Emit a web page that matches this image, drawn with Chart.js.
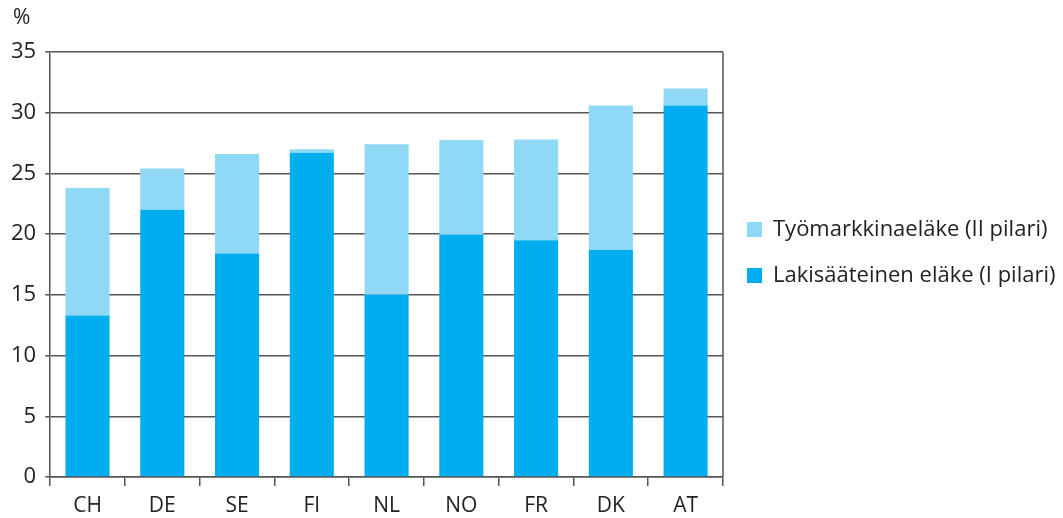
<!DOCTYPE html>
<html>
<head>
<meta charset="utf-8">
<script src="https://cdn.jsdelivr.net/npm/chart.js@4"></script>
<style>
  html, body { margin: 0; padding: 0; background: #fff; }
  #wrap { width: 1063px; height: 518px; position: relative; }
</style>
</head>
<body>
<div id="wrap"><canvas id="pension-chart"></canvas></div>
<script>
// Countries and pension replacement shares (%)
const countries = ['CH', 'DE', 'SE', 'FI', 'NL', 'NO', 'FR', 'DK', 'AT'];
const statutory = [13.3, 22.0, 18.4, 26.7, 15.0, 19.95, 19.5, 18.7, 30.6];
const occupational = [10.5, 3.4, 8.2, 0.3, 12.4, 7.8, 8.3, 11.9, 1.4];
const yTicks = [0, 5, 10, 15, 20, 25, 30, 35];

const axisColor = '#555555';
const textColor = '#222222';
const fontFamily = '"Open Sans", Lato, sans-serif';

// "%" label, right frame line and legend on the right
const extrasPlugin = {
    id: 'extras',
    afterDraw(chart) {
        const ctx = chart.ctx;
        const area = chart.chartArea;
        ctx.save();
        ctx.strokeStyle = axisColor;
        ctx.lineWidth = 1.5;
        ctx.beginPath();
        ctx.moveTo(area.right, area.top);
        ctx.lineTo(area.right, area.bottom);
        ctx.stroke();

        ctx.fillStyle = textColor;
        ctx.font = '21px ' + fontFamily;
        ctx.textAlign = 'left';
        ctx.textBaseline = 'middle';
        ctx.fillText('%', 13, 18);

        // legend, top item = last dataset
        const items = chart.data.datasets.slice().reverse();
        const midY = (area.top + area.bottom) / 2 - 12;
        const boxX = area.right + 24;
        items.forEach((ds, i) => {
            const y = midY + (i - 0.5) * 46;
            ctx.fillStyle = ds.backgroundColor;
            ctx.fillRect(boxX, y - 7.5, 15, 15);
            ctx.fillStyle = textColor;
            ctx.font = '22px ' + fontFamily;
            ctx.fillText(ds.label, boxX + 26, y);
        });
        ctx.restore();
    }
};

function drawChart() {
    const pensionCtx = document.getElementById('pension-chart').getContext('2d');
    new Chart(pensionCtx, {
        type: 'bar',
        data: {
            labels: countries,
            datasets: [{
                label: 'Lakisääteinen eläke (I pilari)',
                data: statutory,
                backgroundColor: '#00AEEF',
                borderWidth: 0
            }, {
                label: 'Työmarkkinaeläke (II pilari)',
                data: occupational,
                backgroundColor: '#8FD8F6',
                borderWidth: 0
            }]
        },
        options: {
            responsive: true,
            maintainAspectRatio: false,
            animation: false,
            datasets: {
                bar: {
                    categoryPercentage: 1,
                    barPercentage: 0.59
                }
            },
            layout: {
                padding: { top: 52, right: 340, bottom: -9, left: 2 }
            },
            plugins: {
                legend: { display: false },
                tooltip: { enabled: false }
            },
            scales: {
                x: {
                    stacked: true,
                    offset: true,
                    grid: {
                        display: true,
                        offset: true,
                        drawOnChartArea: false,
                        drawTicks: true,
                        tickLength: 9,
                        color: axisColor,
                        lineWidth: 1.5
                    },
                    border: { color: axisColor, width: 1.5 },
                    ticks: {
                        color: textColor,
                        padding: 10,
                        font: { family: fontFamily, size: 21, lineHeight: 1 }
                    }
                },
                y: {
                    stacked: true,
                    min: 0,
                    max: 35,
                    afterBuildTicks(axis) {
                        axis.ticks = yTicks.map(v => ({ value: v }));
                    },
                    grid: {
                        color: axisColor,
                        lineWidth: 1.5,
                        tickLength: 5
                    },
                    border: { color: axisColor, width: 1.5 },
                    ticks: {
                        color: textColor,
                        padding: 9,
                        font: { family: fontFamily, size: 22 }
                    }
                }
            }
        },
        plugins: [extrasPlugin]
    });
}

if (document.fonts && document.fonts.load) {
    Promise.all([
        document.fonts.load('21px "Open Sans"'),
        document.fonts.load('22px "Open Sans"')
    ]).then(drawChart, drawChart);
} else {
    drawChart();
}
</script>
</body>
</html>
